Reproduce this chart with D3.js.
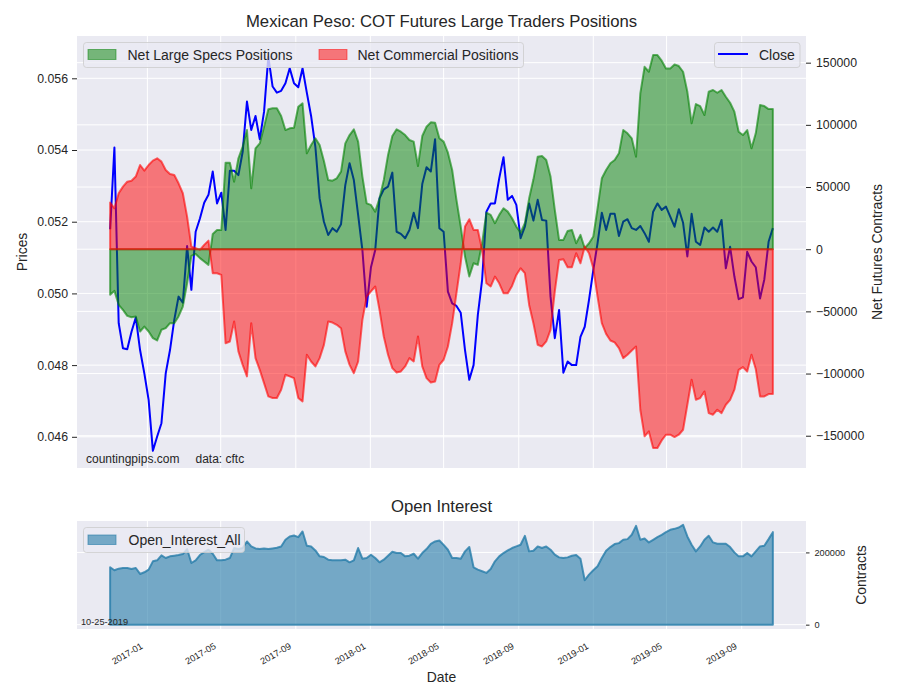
<!DOCTYPE html>
<html>
<head>
<meta charset="utf-8">
<script src="https://cdn.jsdelivr.net/npm/d3@7"></script>
<style>
  body { margin: 0; background: #fff; }
  text { font-family: "Liberation Sans", Arial, sans-serif; fill: #262626; }
</style>
</head>
<body>
<div id="chart"></div>
<script>
// weekly COT report dates (tuesdays)
var firstDate = new Date(2016, 10, 1),
    weeks = 156;
var dates = d3.range(weeks).map(i => d3.timeDay.offset(firstDate, 7 * i));

var close = [0.05179,0.05407,0.04917,0.04847,0.04844,0.04893,0.04933,0.04842,0.04777,0.04703,
  0.04561,0.04601,0.04638,0.04777,0.04842,0.04926,0.04991,0.04974,0.05132,0.05010,
  0.05172,0.05209,0.05253,0.05275,0.05340,0.05251,0.05281,0.05177,0.05342,0.05342,
  0.05330,0.05395,0.05535,0.05456,0.05495,0.05430,0.05507,0.05660,0.05577,0.05560,
  0.05565,0.05586,0.05628,0.05586,0.05575,0.05628,0.05560,0.05495,0.05409,0.05265,
  0.05200,0.05163,0.05182,0.05172,0.05193,0.05302,0.05363,0.05316,0.05219,0.05121,
  0.04963,0.05073,0.05121,0.05265,0.05290,0.05298,0.05337,0.05172,0.05166,0.05154,
  0.05177,0.05225,0.05182,0.05305,0.05352,0.05340,0.05430,0.05182,0.05172,0.05005,
  0.04972,0.04965,0.04946,0.04842,0.04759,0.04800,0.04940,0.05038,0.05228,0.05251,
  0.05251,0.05321,0.05380,0.05261,0.05272,0.05247,0.05154,0.05186,0.05251,0.05203,
  0.05261,0.05205,0.05203,0.04991,0.04875,0.04954,0.04779,0.04810,0.04800,0.04800,
  0.04879,0.04907,0.04982,0.05065,0.05140,0.05225,0.05177,0.05222,0.05222,0.05160,
  0.05200,0.05207,0.05182,0.05177,0.05188,0.05168,0.05144,0.05228,0.05251,0.05233,
  0.05242,0.05214,0.05186,0.05235,0.05197,0.05103,0.05222,0.05144,0.05135,0.05184,
  0.05172,0.05184,0.05172,0.05205,0.05070,0.05130,0.05047,0.04984,0.04989,0.05116,
  0.05089,0.05073,0.04986,0.05039,0.05144,0.05182];

var netSpecs = [-36700,-33500,-44700,-48800,-53600,-54700,-54100,-66200,-62200,-66200,
  -71500,-73400,-64800,-63500,-59500,-59500,-54100,-46100,-27400,-5400,
  -3800,-7200,-9900,-12600,12300,15500,15500,69600,69600,54300,
  73100,82500,95800,49000,81100,85100,98500,112500,113300,113300,
  107100,95800,97200,97700,114600,117300,77100,83800,89200,83800,
  71000,55700,55100,57000,62400,85100,91800,96400,86500,58400,
  36900,35600,30200,40900,55700,75800,91000,96400,94500,91800,
  87800,86500,66900,91000,98500,102000,101700,89200,86500,77600,
  63700,39600,18200,-5900,-22000,-11300,-12600,4800,29400,27600,
  20900,27600,32900,30200,24900,18200,13400,20900,40900,56200,
  74400,75000,71700,58400,31600,7500,7500,14700,15500,4800,
  11500,800,4800,10200,32900,57000,63700,69100,71700,77100,
  95800,93200,89200,74400,125300,146700,142700,156100,156100,151600,
  145400,145400,148600,147300,142700,126600,101200,116700,115100,107900,
  126600,128000,125800,128000,122600,117800,110600,94500,91800,95800,
  81100,93200,115900,115100,112700,112700];

var netCommercial = [37500,32900,45000,50300,54300,55100,58400,67700,63200,67700,
  71200,73100,70400,63700,60500,59700,53000,45000,26200,2100,
  800,-600,3500,6900,-19300,-19300,-20700,-75600,-74200,-58100,
  -82200,-93000,-102300,-59500,-87600,-97000,-107700,-118400,-119700,-119700,
  -113000,-101000,-102300,-103700,-119700,-122400,-84900,-90300,-94300,-87600,
  -76900,-58100,-59000,-60800,-63500,-82200,-93000,-99700,-90300,-56800,
  -38100,-34000,-30000,-48800,-70200,-84900,-95600,-99100,-98300,-94300,
  -87600,-90300,-70200,-94300,-103700,-107200,-106400,-93000,-88900,-78200,
  -59500,-35400,-11300,18200,24100,15500,15500,-600,-27400,-30000,
  -22000,-27400,-35400,-35400,-29500,-20700,-15300,-19300,-44800,-59500,
  -76900,-78200,-74200,-64800,-34000,-8600,-8100,-14500,-14500,-3200,
  -11300,2100,-3200,-15300,-38100,-59500,-68100,-73400,-75000,-79600,
  -87600,-84900,-81400,-78200,-129100,-150500,-146500,-159900,-159900,-153800,
  -149200,-149200,-151100,-149200,-145200,-125100,-105000,-121100,-119700,-114400,
  -131800,-133100,-129100,-131800,-125100,-121100,-113000,-97000,-94800,-98300,
  -84900,-96400,-118400,-118400,-116500,-116500];

var openInterest = [158800,150500,155100,157000,157000,154200,157000,140400,145000,152400,
  175300,178100,191800,184500,189100,190900,192800,195500,209300,170700,
  178100,192800,201000,207500,196400,178100,178100,179900,184500,212100,
  209300,212100,230400,216600,211100,209300,211100,209300,211100,213000,
  216600,235000,244200,246900,242400,258000,218500,216600,205600,189100,
  187300,179900,178100,178100,178100,179900,172600,178100,212100,182700,
  184500,193700,184500,172600,179900,190900,202000,198300,198300,189100,
  190900,196400,182700,198300,209300,224000,230400,233200,221000,207500,
  184500,184500,182700,202900,214800,158800,152400,147800,143200,154200,
  175300,189100,198300,205600,212100,216600,221200,246000,202900,204700,
  216600,212100,216600,207500,193700,186300,184500,186300,190900,192800,
  182700,123000,138600,150500,161500,184500,204700,214800,223100,225800,
  235000,236800,248800,273600,235000,238700,227700,235000,242400,248800,
  256100,262600,265300,269000,276300,244200,221200,202900,216600,235000,
  246000,227700,224000,224000,224000,214800,200100,189100,189100,198300,
  189100,202900,216600,218500,236800,256100];

var priceTicks = [0.046, 0.048, 0.050, 0.052, 0.054, 0.056];
var netTicks = [-150000, -100000, -50000, 0, 50000, 100000, 150000];
var oiTicks = [0, 200000];

var left = 77, right = 806,
    top1 = 36, bottom1 = 468,
    top2 = 521, bottom2 = 629;

var svg = d3.select("#chart").append("svg")
    .attr("width", 900)
    .attr("height", 700);

// x scale padded like matplotlib's 5% margins
var span = dates[dates.length - 1] - dates[0];
var x = d3.scaleTime()
    .domain([new Date(+dates[0] - span * 0.05), new Date(+dates[dates.length - 1] + span * 0.05)])
    .range([left, right]);
var dateTicks = x.ticks(d3.timeMonth.every(4));

var yPrice = d3.scaleLinear().domain([0.04513, 0.05718]).range([bottom1, top1]);
var yNet = d3.scaleLinear().domain([-175950, 171450]).range([bottom1, top1]);
var yOI = d3.scaleLinear().domain([-12000, 287000]).range([bottom2, top2]);

function panel(id, y0, y1) {
    svg.append("rect")
        .attr("x", left).attr("y", y0)
        .attr("width", right - left).attr("height", y1 - y0)
        .attr("fill", "#eaeaf2");
    svg.append("clipPath").attr("id", id)
      .append("rect")
        .attr("x", left).attr("y", y0)
        .attr("width", right - left).attr("height", y1 - y0);
    svg.append("g").selectAll("line")
        .data(dateTicks)
      .enter().append("line")
        .attr("x1", d => x(d)).attr("x2", d => x(d))
        .attr("y1", y0).attr("y2", y1)
        .attr("stroke", "#fff").attr("stroke-width", 1);
}

function hgrid(scale, ticks) {
    svg.append("g").selectAll("line")
        .data(ticks)
      .enter().append("line")
        .attr("x1", left).attr("x2", right)
        .attr("y1", d => scale(d)).attr("y2", d => scale(d))
        .attr("stroke", "#fff").attr("stroke-width", 1);
}

function styleAxis(g, size) {
    g.select(".domain").remove();
    g.selectAll(".tick line").attr("stroke", "#262626");
    g.selectAll(".tick text").attr("font-size", size).attr("fill", "#262626")
        .style("font-family", "'Liberation Sans', Arial, sans-serif");
}

// ---------- top panel ----------
panel("clip1", top1, bottom1);
hgrid(yPrice, priceTicks);
hgrid(yNet, netTicks);

var plotTop = svg.append("g").attr("clip-path", "url(#clip1)");

plotTop.append("path")
    .datum(close)
    .attr("fill", "none")
    .attr("stroke", "blue")
    .attr("stroke-width", 2)
    .attr("stroke-linejoin", "round")
    .attr("d", d3.line().x((d, i) => x(dates[i])).y(d => yPrice(d)));

// close legend (belongs to price axis)
var lg2 = svg.append("g");
lg2.append("rect")
    .attr("x", 714.5).attr("y", 42.5).attr("width", 85.5).attr("height", 25)
    .attr("rx", 3)
    .attr("fill", "#eaeaf2").attr("fill-opacity", 0.8)
    .attr("stroke", "#cccccc").attr("stroke-opacity", 0.8);
lg2.append("line")
    .attr("x1", 718).attr("x2", 748).attr("y1", 54).attr("y2", 54)
    .attr("stroke", "blue").attr("stroke-width", 2);
lg2.append("text").attr("x", 759).attr("y", 59.5).attr("font-size", 14).text("Close");

var area = d3.area()
    .x((d, i) => x(dates[i]))
    .y0(yNet(0))
    .y1(d => yNet(d));

plotTop.append("path")
    .datum(netSpecs)
    .attr("fill", "green").attr("fill-opacity", 0.5)
    .attr("stroke", "green").attr("stroke-opacity", 0.6).attr("stroke-width", 2)
    .attr("stroke-linejoin", "round")
    .attr("d", area);

plotTop.append("path")
    .datum(netCommercial)
    .attr("fill", "red").attr("fill-opacity", 0.5)
    .attr("stroke", "red").attr("stroke-opacity", 0.6).attr("stroke-width", 2)
    .attr("stroke-linejoin", "round")
    .attr("d", area);

svg.append("g")
    .attr("transform", "translate(" + left + ",0)")
    .call(d3.axisLeft(yPrice).tickValues(priceTicks).tickFormat(d3.format(".3f")).tickSize(5).tickPadding(4))
    .call(g => styleAxis(g, 12.3));

svg.append("g")
    .attr("transform", "translate(" + right + ",0)")
    .call(d3.axisRight(yNet).tickValues(netTicks).tickFormat(d3.format("d")).tickSize(5).tickPadding(5))
    .call(g => styleAxis(g, 12.3));

// positions legend
var lg1 = svg.append("g");
lg1.append("rect")
    .attr("x", 83.5).attr("y", 42.5).attr("width", 440).attr("height", 25)
    .attr("rx", 3)
    .attr("fill", "#eaeaf2").attr("fill-opacity", 0.8)
    .attr("stroke", "#cccccc").attr("stroke-opacity", 0.8);
lg1.append("rect")
    .attr("x", 88).attr("y", 49.5).attr("width", 28).attr("height", 10)
    .attr("fill", "green").attr("fill-opacity", 0.5)
    .attr("stroke", "green").attr("stroke-opacity", 0.5);
lg1.append("text").attr("x", 127.5).attr("y", 59.5).attr("font-size", 14).text("Net Large Specs Positions");
lg1.append("rect")
    .attr("x", 319).attr("y", 49.5).attr("width", 28).attr("height", 10)
    .attr("fill", "red").attr("fill-opacity", 0.5)
    .attr("stroke", "red").attr("stroke-opacity", 0.5);
lg1.append("text").attr("x", 357.5).attr("y", 59.5).attr("font-size", 14).text("Net Commercial Positions");

svg.append("text").attr("x", 86).attr("y", 462.5).attr("font-size", 12).text("countingpips.com");
svg.append("text").attr("x", 195.5).attr("y", 462.5).attr("font-size", 12).text("data: cftc");

svg.append("text")
    .attr("x", (left + right) / 2).attr("y", 27.3)
    .attr("text-anchor", "middle").attr("font-size", 16.7)
    .text("Mexican Peso: COT Futures Large Traders Positions");

svg.append("text")
    .attr("transform", "translate(26.5," + (top1 + bottom1) / 2 + ") rotate(-90)")
    .attr("text-anchor", "middle").attr("font-size", 13.9)
    .text("Prices");

svg.append("text")
    .attr("transform", "translate(881.5," + (top1 + bottom1) / 2 + ") rotate(-90)")
    .attr("text-anchor", "middle").attr("font-size", 13.9)
    .text("Net Futures Contracts");

// ---------- bottom panel ----------
panel("clip2", top2, bottom2);
hgrid(yOI, oiTicks);

var oiColor = "#257ca9";

svg.append("g").attr("clip-path", "url(#clip2)")
  .append("path")
    .datum(openInterest)
    .attr("fill", oiColor).attr("fill-opacity", 0.6)
    .attr("stroke", oiColor).attr("stroke-opacity", 0.8).attr("stroke-width", 2)
    .attr("stroke-linejoin", "round")
    .attr("d", d3.area().x((d, i) => x(dates[i])).y0(yOI(0)).y1(d => yOI(d)));

svg.append("g")
    .attr("transform", "translate(" + right + ",0)")
    .call(d3.axisRight(yOI).tickValues(oiTicks).tickFormat(d3.format("d")).tickSize(3.5).tickPadding(5))
    .call(g => styleAxis(g, 9.2));

var lg3 = svg.append("g");
lg3.append("rect")
    .attr("x", 83.5).attr("y", 527.5).attr("width", 161).attr("height", 25)
    .attr("rx", 3)
    .attr("fill", "#eaeaf2").attr("fill-opacity", 0.8)
    .attr("stroke", "#cccccc").attr("stroke-opacity", 0.8);
lg3.append("rect")
    .attr("x", 88).attr("y", 535).attr("width", 28).attr("height", 9.5)
    .attr("fill", oiColor).attr("fill-opacity", 0.6)
    .attr("stroke", oiColor).attr("stroke-opacity", 0.6);
lg3.append("text").attr("x", 128.5).attr("y", 544.5).attr("font-size", 14).text("Open_Interest_All");

svg.append("text").attr("x", 81).attr("y", 624.5).attr("font-size", 9.2).text("10-25-2019");

svg.append("g").selectAll("text")
    .data(dateTicks)
  .enter().append("text")
    .attr("transform", d => "translate(" + (x(d) - 4) + ",648) rotate(-30)")
    .attr("text-anchor", "end")
    .attr("font-size", 9.2)
    .text(d => d3.timeFormat("%Y-%m")(d));

svg.append("text")
    .attr("x", (left + right) / 2).attr("y", 511.7)
    .attr("text-anchor", "middle").attr("font-size", 16.7)
    .text("Open Interest");

svg.append("text")
    .attr("x", (left + right) / 2).attr("y", 681.7)
    .attr("text-anchor", "middle").attr("font-size", 13.9)
    .text("Date");

svg.append("text")
    .attr("transform", "translate(866," + (top2 + bottom2) / 2 + ") rotate(-90)")
    .attr("text-anchor", "middle").attr("font-size", 13.9)
    .text("Contracts");
</script>
</body>
</html>
